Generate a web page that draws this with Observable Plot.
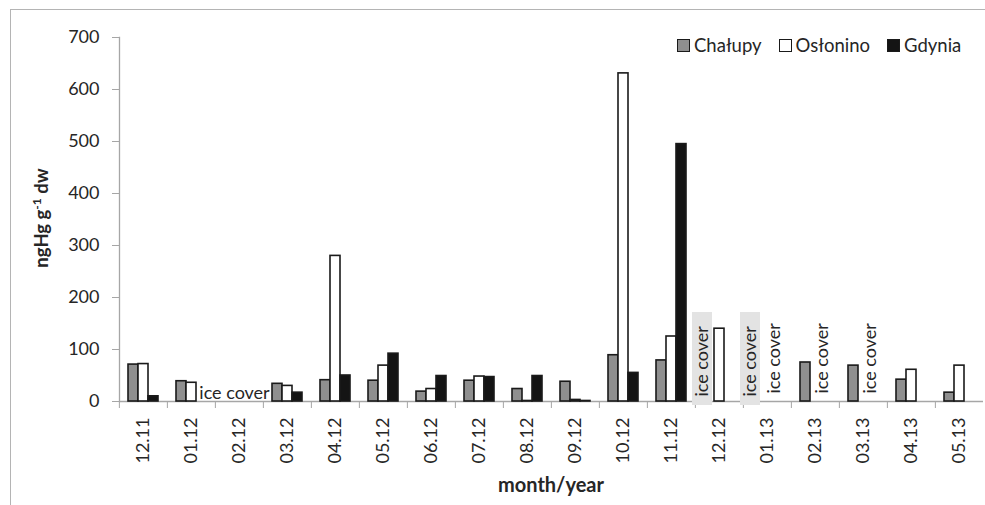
<!DOCTYPE html>
<html>
<head>
<meta charset="utf-8">
<script src="https://cdn.jsdelivr.net/npm/d3@7"></script>
<script src="https://cdn.jsdelivr.net/npm/@observablehq/plot@0.6"></script>
<style>
  html, body { margin: 0; padding: 0; background: #fff; overflow: hidden; }
  #wrap { position: relative; width: 985px; height: 505px; }
  #border { position: absolute; left: 10px; top: 9px; width: 1200px; height: 800px;
            border-left: 1px solid #b4b4b4; border-top: 1px solid #b4b4b4; }
  #chart { position: absolute; left: 0; top: 0; }
  #legend { position: absolute; left: 677px; top: 34px; display: flex; align-items: center;
            font-family: Lato, sans-serif; font-size: 18.5px; color: #262626; white-space: nowrap; }
  #legend .sw { display: inline-block; width: 11px; height: 11px; border: 1.5px solid #1a1a1a; margin-right: 4px; }
  #legend .item { display: flex; align-items: center; margin-right: 17px; }
</style>
</head>
<body>
<div id="wrap">
  <div id="border"></div>
  <div id="chart"></div>
  <div id="legend"></div>
</div>
<script>
// ---- data ----
const months = ["12.11","01.12","02.12","03.12","04.12","05.12","06.12","07.12","08.12","09.12",
                "10.12","11.12","12.12","01.13","02.13","03.13","04.13","05.13"];
const series = ["Chałupy","Osłonino","Gdynia"];
const seriesColors = ["#8f8f8f","#ffffff","#141414"];
const chalupy  = [71, 39, null, 34, 41, 40, 19, 40, 24, 38, 89, 79, null, null, 75, 69, 42, 17];
const oslonino = [72, 36, null, 30, 280, 69, 24, 48, 1, 3, 631, 125, 140, null, null, null, 61, 69];
const gdynia   = [10, null, null, 17, 50, 92, 49, 47, 49, 1, 55, 495, null, null, null, null, null, null];
const yTicks = [0, 100, 200, 300, 400, 500, 600, 700];

// ice-cover annotations
const iceMonths  = ["02.12","12.12","01.13","01.13","02.13","03.13"];
const iceSeries  = ["Osłonino","Chałupy","Chałupy","Gdynia","Gdynia","Gdynia"];
const iceRotated = [false, true, true, true, true, true];
const iceShaded  = [false, true, true, false, false, false];
const iceText = "ice cover";

// ---- build tables ----
const values = [chalupy, oslonino, gdynia];
const data = [];
months.forEach((m, i) => series.forEach((s, j) => {
  const v = values[j][i];
  if (v != null) data.push({month: m, series: s, value: v});
}));
const ice = iceMonths.map((m, i) => ({month: m, series: iceSeries[i], rotated: iceRotated[i], shaded: iceShaded[i], label: iceText}));

const W = 985, H = 505, mL = 117, mR = 0, mT = 37, mB = 104;
const step = (W - mL - mR) / months.length;
const axisGrey = "#a6a6a6";

const chart = Plot.plot({
  width: W, height: H,
  marginLeft: mL, marginRight: mR, marginTop: mT, marginBottom: mB,
  style: {fontFamily: "Lato, sans-serif", fontSize: "18px", color: "#262626", background: "transparent"},
  fx: {domain: months, padding: 0, label: null},
  x: {domain: series, paddingInner: 0, paddingOuter: 0.695, axis: null},
  y: {domain: [0, 700], label: null},
  color: {domain: series, range: seriesColors},
  marks: [
    Plot.frame({anchor: "left", facetAnchor: "left", stroke: axisGrey, strokeWidth: 1.3}),
    Plot.axisY({ticks: yTicks, tickSize: 7, tickPadding: 13, stroke: axisGrey, fill: "#262626", label: null, tickFormat: d => String(d)}),
    Plot.axisFx({anchor: "bottom", tickSize: 0, tickRotate: -90, tickPadding: 16, label: null, fill: "#262626"}),
    Plot.axisFx({anchor: "bottom", tickSize: 7, tickFormat: () => "", dx: -step / 2, stroke: axisGrey, label: null}),
    Plot.ruleY([0], {stroke: axisGrey, strokeWidth: 1.5}),
    Plot.barY(ice.filter(d => d.shaded), {fx: "month", x: "series", y1: 0, y2: 0,
      insetTop: -89, insetBottom: -4, insetLeft: -12, insetRight: 2, fill: "#e3e3e3"}),
    Plot.barY(data, {fx: "month", x: "series", y: "value", fill: "series", stroke: "#1a1a1a", strokeWidth: 1.6}),
    Plot.text(ice.filter(d => !d.rotated), {fx: "month", x: "series", y: 0, text: "label",
      textAnchor: "middle", lineAnchor: "bottom", dy: -3, dx: -5, fill: "#262626"}),
    Plot.text(ice.filter(d => d.rotated && d.shaded), {fx: "month", x: "series", y: 0, text: "label",
      rotate: -90, textAnchor: "start", lineAnchor: "middle", dy: -5, dx: -7, fill: "#262626"}),
    Plot.text(ice.filter(d => d.rotated && !d.shaded), {fx: "month", x: "series", y: 0, text: "label",
      rotate: -90, textAnchor: "start", lineAnchor: "middle", dy: -8, dx: -3, fill: "#262626"})
  ]
});
document.getElementById("chart").appendChild(chart);

// axis titles
const svg = d3.select(chart);
const yt = svg.append("text")
  .attr("transform", "translate(48,218) rotate(-90)")
  .attr("text-anchor", "middle")
  .style("font-family", "Lato, sans-serif").style("font-weight", "bold").style("font-size", "18.5px")
  .attr("fill", "#262626");
yt.append("tspan").text("ngHg g");
yt.append("tspan").attr("dy", -7).style("font-size", "12px").text("-1");
yt.append("tspan").attr("dy", 7).text(" dw");
svg.append("text")
  .attr("x", mL + (W - mL - mR) / 2).attr("y", 492)
  .attr("text-anchor", "middle")
  .style("font-family", "Lato, sans-serif").style("font-weight", "bold").style("font-size", "20px")
  .attr("fill", "#262626")
  .text("month/year");

// legend
const legend = d3.select("#legend");
series.forEach((s, i) => {
  const item = legend.append("div").attr("class", "item");
  item.append("span").attr("class", "sw").style("background", seriesColors[i]);
  item.append("span").text(s);
});
</script>
</body>
</html>
